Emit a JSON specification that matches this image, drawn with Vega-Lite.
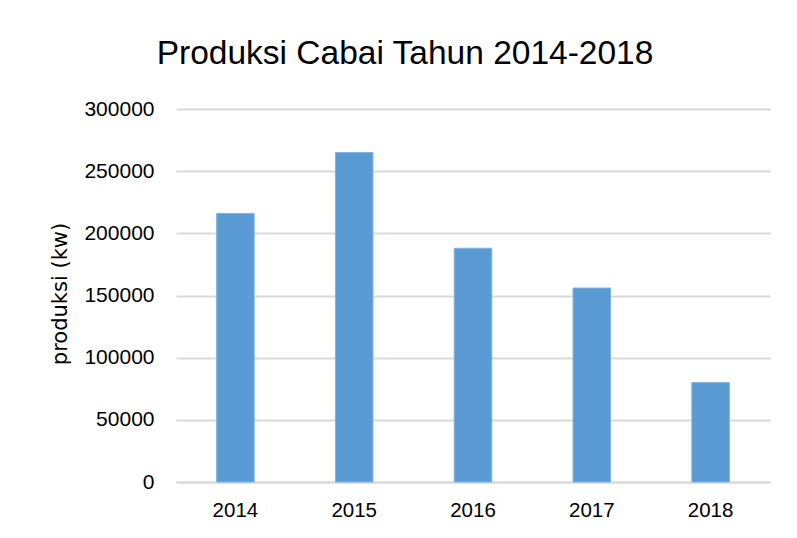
{
  "$schema": "https://vega.github.io/schema/vega-lite/v6.json",
  "width": 594,
  "height": 373,
  "autosize": {"type": "none"},
  "padding": {"left": 176, "top": 109, "right": 27, "bottom": 56},
  "background": "white",
  "config": {
    "font": "Liberation Sans",
    "view": {"stroke": null}
  },
  "title": {
    "text": "Produksi Cabai Tahun 2014-2018",
    "font": "Liberation Sans",
    "fontSize": 33.5,
    "fontWeight": "normal",
    "color": "#000000",
    "anchor": "middle",
    "dx": -68,
    "offset": 27
  },
  "data": {
    "values": [
      {"tahun": "2014", "produksi": 216000},
      {"tahun": "2015", "produksi": 265000},
      {"tahun": "2016", "produksi": 188000},
      {"tahun": "2017", "produksi": 156000},
      {"tahun": "2018", "produksi": 80000}
    ]
  },
  "mark": {"type": "bar", "color": "#5B9BD5", "stroke": "#7fb2e0", "strokeWidth": 1},
  "encoding": {
    "x": {
      "field": "tahun",
      "type": "nominal",
      "sort": null,
      "scale": {"paddingInner": 0.684, "paddingOuter": 0.342},
      "axis": {
        "title": null,
        "labelAngle": 0,
        "labelFontSize": 20.5,
        "labelColor": "#000000",
        "labelPadding": 18,
        "ticks": false,
        "tickSize": 0,
        "domainColor": "#d9d9d9",
        "domainWidth": 2
      }
    },
    "y": {
      "field": "produksi",
      "type": "quantitative",
      "scale": {"domain": [0, 300000], "nice": false},
      "axis": {
        "title": "produksi (kw)",
        "titleFont": "DejaVu Sans",
        "titleFontSize": 21,
        "titleFontWeight": "normal",
        "titleColor": "#000000",
        "titlePadding": 13,
        "titleY": 184.5,
        "values": [0, 50000, 100000, 150000, 200000, 250000, 300000],
        "format": "d",
        "labelFontSize": 21,
        "labelColor": "#000000",
        "labelPadding": 22,
        "ticks": false,
        "tickSize": 0,
        "domain": false,
        "grid": true,
        "gridColor": "#d9d9d9",
        "gridWidth": 2
      }
    }
  }
}
